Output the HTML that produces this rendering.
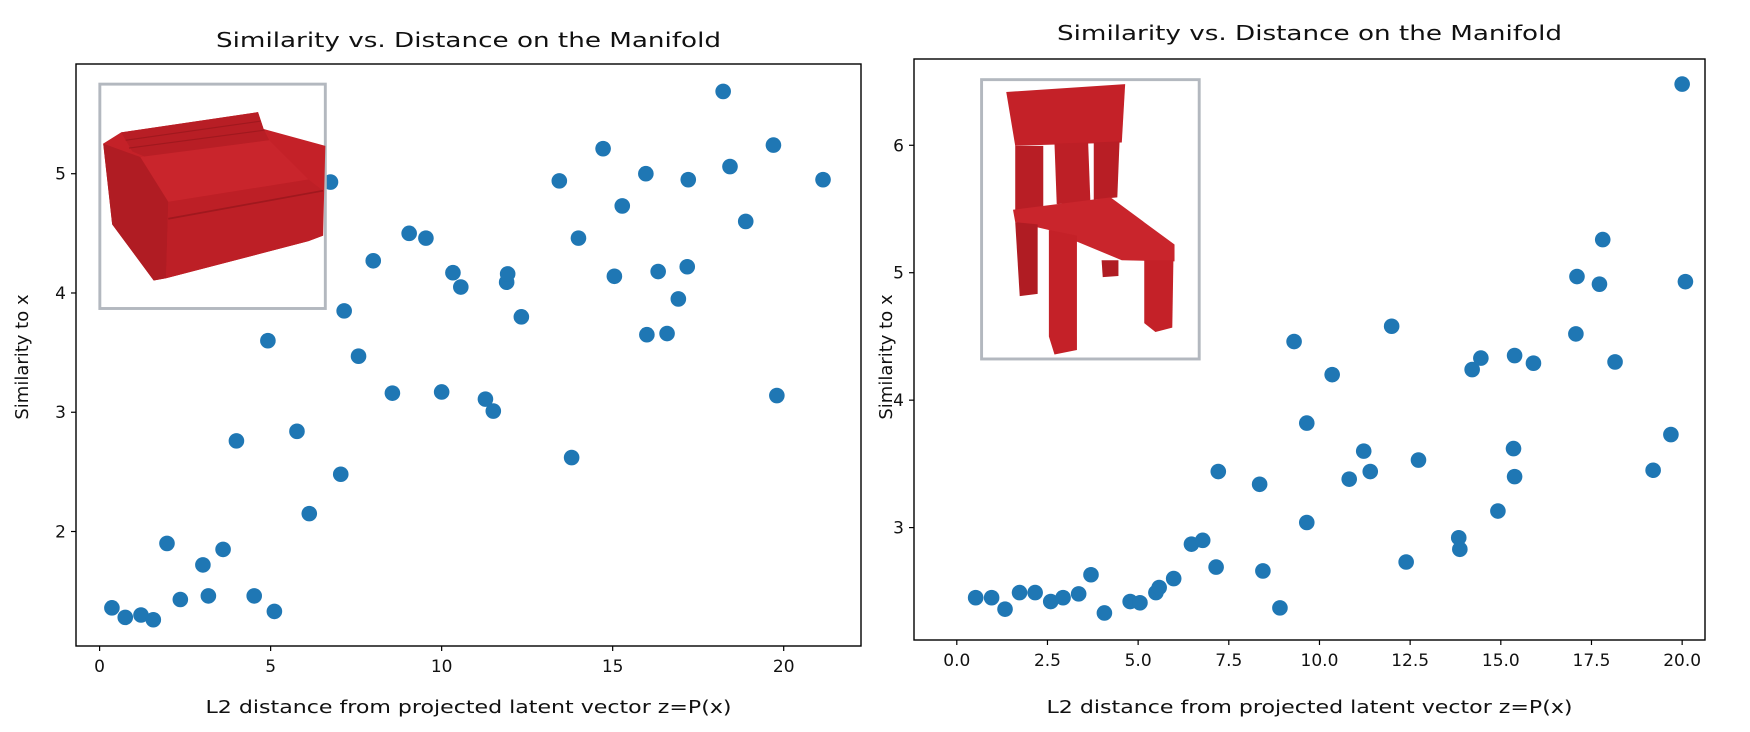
<!DOCTYPE html>
<html><head><meta charset="utf-8"><style>
html,body{margin:0;padding:0;background:#fff}
svg{display:block}
text{font-family:"DejaVu Sans","Liberation Sans",sans-serif;fill:#111}
</style></head><body>
<svg id="fig" width="1750" height="732" viewBox="0 0 1750 732">
<g id="left"></g>
<g id="right"></g>
<g transform="scale(1.1218)">
 <g>
  <rect x="89" y="75" width="201" height="200" fill="#fff" stroke="#b3b8bf" stroke-width="2.6"/>
  <polygon points="92,128 108,118 230,100 235,115 290,130 288,210 275,215 148,248 137,250 100,200" fill="#c42128"/>
  <polygon points="108,118 230,100 235,115 240,125 130,140 118,135" fill="#b81e25"/>
  <polyline points="112,125 232,108" stroke="#a0181e" stroke-width="1" fill="none"/>
  <polyline points="115,132 236,116" stroke="#a0181e" stroke-width="1" fill="none"/>
  <polygon points="125,140 240,125 275,160 150,180" fill="#c9252c"/>
  <polygon points="92,128 125,140 150,180 148,248 137,250 100,200" fill="#b01c23"/>
  <polygon points="150,180 275,160 288,170 288,210 275,215 148,248" fill="#bd1f26"/>
  <polyline points="150,195 288,170" stroke="#a0181e" stroke-width="1.5" fill="none"/>
 </g>
 <g>
  <rect x="875" y="71" width="194" height="249" fill="#fff" stroke="#b3b8bf" stroke-width="2.6"/>
  <polygon points="897,82 1003,75 1000,127 905,130" fill="#c42128"/>
  <polygon points="905,130 930,130 930,190 905,192" fill="#b81e25"/>
  <polygon points="940,128 970,127 972,180 942,182" fill="#bd1f26"/>
  <polygon points="975,127 998,126 996,176 975,178" fill="#b81e25"/>
  <polygon points="903,187 990,176 1047,218 1047,233 1000,232 935,205 905,198" fill="#c9252c"/>
  <polygon points="905,198 925,200 925,262 909,264" fill="#b01c23"/>
  <polygon points="935,205 960,210 960,312 940,316 935,300" fill="#c42128"/>
  <polygon points="1020,232 1046,232 1045,292 1030,296 1020,288" fill="#c42128"/>
  <polygon points="982,232 997,232 997,246 983,247" fill="#b01c23"/>
 </g>
</g>
</svg>
<script>
// ---- Left chart data ----
const leftX = [0.36,0.75,1.21,1.57,1.97,2.36,3.02,3.18,3.61,4.0,4.52,4.92,5.11,5.77,6.13,6.75,7.05,7.15,7.57,8.0,8.56,9.05,9.54,10.0,10.33,10.56,11.28,11.51,11.9,11.93,12.33,13.44,13.8,14.0,14.72,15.05,15.28,15.97,16.0,16.33,16.59,16.92,17.18,17.21,18.23,18.43,18.89,19.7,19.8,21.15];
const leftY = [1.36,1.28,1.30,1.26,1.90,1.43,1.72,1.46,1.85,2.76,1.46,3.60,1.33,2.84,2.15,4.93,2.48,3.85,3.47,4.27,3.16,4.50,4.46,3.17,4.17,4.05,3.11,3.01,4.09,4.16,3.80,4.94,2.62,4.46,5.21,4.14,4.73,5.0,3.65,4.18,3.66,3.95,4.22,4.95,5.69,5.06,4.60,5.24,3.14,4.95];
const leftXTicks = [0,5,10,15,20];
const leftXTickLabels = ["0","5","10","15","20"];
const leftYTicks = [2,3,4,5];
const leftYTickLabels = ["2","3","4","5"];
// ---- Right chart data ----
const rightX = [0.52,0.96,1.33,1.73,2.16,2.59,2.93,3.36,3.70,4.07,4.78,5.05,5.49,5.58,5.98,6.47,6.78,7.15,7.21,8.35,8.44,8.91,9.3,9.65,9.65,10.35,10.82,11.22,11.4,11.99,12.39,12.73,13.84,13.87,14.21,14.45,14.92,15.35,15.38,15.38,15.9,17.07,17.1,17.72,17.81,18.15,19.2,19.69,20.0,20.09];
const rightY = [2.45,2.45,2.36,2.49,2.49,2.42,2.45,2.48,2.63,2.33,2.42,2.41,2.49,2.53,2.60,2.87,2.90,2.69,3.44,3.34,2.66,2.37,4.46,3.82,3.04,4.20,3.38,3.60,3.44,4.58,2.73,3.53,2.92,2.83,4.24,4.33,3.13,3.62,3.40,4.35,4.29,4.52,4.97,4.91,5.26,4.30,3.45,3.73,6.48,4.93];
const rightXTicks = [0,2.5,5,7.5,10,12.5,15,17.5,20];
const rightXTickLabels = ["0.0","2.5","5.0","7.5","10.0","12.5","15.0","17.5","20.0"];
const rightYTicks = [3,4,5,6];
const rightYTickLabels = ["3","4","5","6"];

const NS = "http://www.w3.org/2000/svg";
function mk(tag, attrs, parent){
  const e = document.createElementNS(NS, tag);
  for (const k in attrs) e.setAttribute(k, attrs[k]);
  parent.appendChild(e);
  return e;
}
function drawChart(g, cfg){
  const sx = v => cfg.x0 + (v - cfg.xmin) / (cfg.xmax - cfg.xmin) * (cfg.x1 - cfg.x0);
  const sy = v => cfg.y1 - (v - cfg.ymin) / (cfg.ymax - cfg.ymin) * (cfg.y1 - cfg.y0);
  const frame = mk('rect', {x:cfg.x0, y:cfg.y0, width:cfg.x1-cfg.x0, height:cfg.y1-cfg.y0, fill:'#fff', stroke:'#000', 'stroke-width':1.4}, g);
  
  
  cfg.xt.forEach((t,i) => {
    const x = sx(t);
    const tk = mk('line', {x1:x, x2:x, y1:cfg.y1, y2:cfg.y1+5, stroke:'#000', 'stroke-width':1.2}, g);
    
    
    const tl = mk('text', {x:x, y:cfg.y1+26, 'text-anchor':'middle', 'font-size':17}, g);
    tl.textContent = cfg.xl[i];
    
    
  });
  cfg.yt.forEach((t,i) => {
    const y = sy(t);
    const tk = mk('line', {x1:cfg.x0-5, x2:cfg.x0, y1:y, y2:y, stroke:'#000', 'stroke-width':1.2}, g);
    
    
    const tl = mk('text', {x:cfg.x0-10, y:y+6, 'text-anchor':'end', 'font-size':17}, g);
    tl.textContent = cfg.yl[i];
    
    
  });
  cfg.xs.forEach((v,i) => {
    const c = mk('circle', {cx:sx(v), cy:sy(cfg.ys[i]), r:7.8, fill:'#1f77b4'}, g);
    
    
  });
  const cx = (cfg.x0+cfg.x1)/2;
  const title = mk('text', {x:cx, y:cfg.titleY, 'text-anchor':'middle', 'font-size':20, textLength:505, lengthAdjust:'spacingAndGlyphs'}, g);
  title.textContent = 'Similarity vs. Distance on the Manifold';
  
  
  const xl = mk('text', {x:cx, y:713, 'text-anchor':'middle', 'font-size':18, textLength:526, lengthAdjust:'spacingAndGlyphs'}, g);
  xl.textContent = 'L2 distance from projected latent vector z=P(x)';
  
  
  const yl = mk('text', {x:0, y:0, 'text-anchor':'middle', 'font-size':18, transform:'translate('+cfg.ylx+',357) rotate(-90)'}, g);
  yl.textContent = 'Similarity to x';
  
  
}
drawChart(document.getElementById('left'), {
  x0:76, x1:861, y0:64, y1:646, xmin:-0.69, xmax:22.26, ymin:1.04, ymax:5.92,
  xs:leftX, ys:leftY, xt:leftXTicks, xl:leftXTickLabels, yt:leftYTicks, yl:leftYTickLabels,
  titleY:47, ylx:28
});
drawChart(document.getElementById('right'), {
  x0:914, x1:1705, y0:59, y1:640, xmin:-1.18, xmax:20.63, ymin:2.118, ymax:6.677,
  xs:rightX, ys:rightY, xt:rightXTicks, xl:rightXTickLabels, yt:rightYTicks, yl:rightYTickLabels,
  titleY:40, ylx:892
});
</script>
</body></html>
